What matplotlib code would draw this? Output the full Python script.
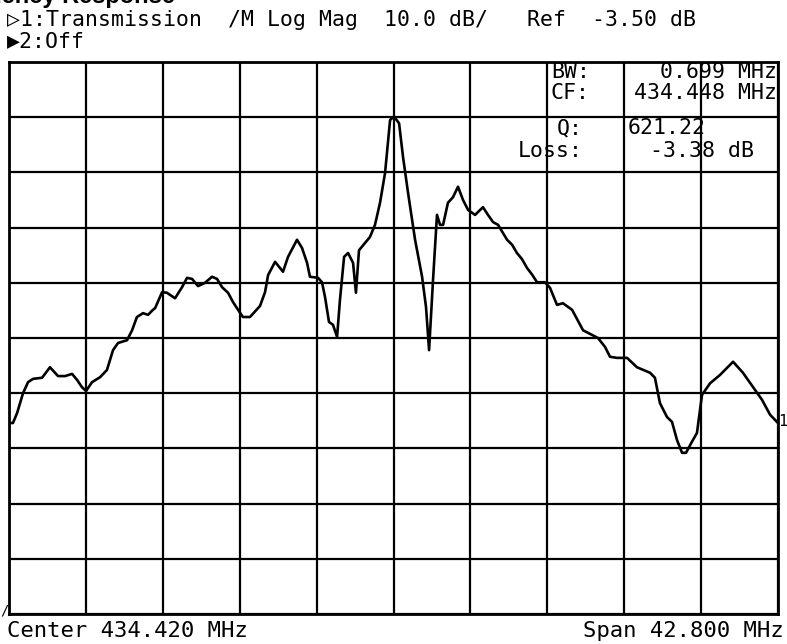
import matplotlib
matplotlib.use("Agg")
import matplotlib.pyplot as plt
import numpy as np

# instrument settings shown on the screen
CENTER_MHZ = 434.420
SPAN_MHZ = 42.800
REF_DB = -3.50
SCALE_DB = 10.0
REF_DIV = 9          # reference line sits on the 9th division from the bottom

# trace 1
freq_mhz = [
    413.02, 413.24, 413.47, 413.80, 414.08, 414.36, 414.86, 415.30, 415.75, 416.14,
    416.53, 416.81, 417.08, 417.31, 417.64, 418.09, 418.47, 418.81, 419.09, 419.59,
    419.87, 420.14, 420.48, 420.76, 421.03, 421.15, 421.54, 421.81, 422.26, 422.65,
    422.93, 423.21, 423.54, 423.93, 424.32, 424.60, 424.88, 425.21, 425.49, 425.77,
    426.04, 426.43, 426.99, 427.27, 427.44, 427.83, 428.27, 428.55, 429.05, 429.33,
    429.61, 429.77, 430.22, 430.44, 430.61, 430.83, 431.05, 431.28, 431.44, 431.67,
    431.89, 432.17, 432.33, 432.50, 432.83, 433.11, 433.39, 433.67, 433.95, 434.23,
    434.45, 434.73, 434.95, 435.23, 435.62, 436.01, 436.23, 436.40, 436.62, 436.84,
    437.01, 437.18, 437.45, 437.73, 438.01, 438.29, 438.57, 438.96, 439.40, 439.68,
    439.96, 440.24, 440.74, 441.02, 441.29, 441.57, 441.85, 442.13, 442.41, 442.85,
    443.13, 443.52, 443.85, 444.36, 444.97, 445.80, 446.19, 446.47, 446.86, 447.42,
    447.97, 448.70, 448.97, 449.25, 449.64, 449.92, 450.20, 450.48, 450.70, 451.03,
    451.31, 451.48, 451.59, 452.04, 452.59, 453.32, 453.87, 454.43, 454.93, 455.38,
    455.82,
]
trace_db = [
    -58.9, -58.9, -57.1, -53.5, -51.5, -50.9, -50.7, -48.8, -50.4, -50.4,
    -50.0, -51.1, -52.4, -53.1, -51.5, -50.6, -49.3, -45.7, -44.4, -43.9,
    -42.1, -39.7, -39.0, -39.3, -38.4, -38.1, -35.2, -35.3, -36.3, -34.3,
    -32.6, -32.8, -34.1, -33.5, -32.4, -32.8, -34.3, -35.3, -37.0, -38.4,
    -39.7, -39.7, -37.7, -35.2, -32.1, -29.7, -31.5, -28.8, -25.7, -27.2,
    -29.9, -32.4, -32.6, -33.4, -36.1, -40.6, -41.1, -43.3, -36.6, -28.8,
    -28.1, -29.9, -35.3, -27.6, -26.3, -25.2, -23.0, -19.0, -13.6, -4.0,
    -3.38, -4.6, -10.7, -17.2, -25.7, -32.4, -37.9, -45.7, -33.0, -21.2,
    -23.0, -23.0, -19.0, -18.0, -16.1, -18.5, -20.3, -21.2, -19.8, -21.2,
    -22.5, -23.0, -25.7, -26.6, -28.1, -29.2, -30.8, -32.0, -33.4, -33.4,
    -34.4, -37.5, -37.2, -38.4, -42.1, -43.5, -45.1, -46.9, -47.1, -47.1,
    -48.8, -49.8, -50.7, -55.3, -57.8, -58.7, -62.0, -64.3, -64.3, -62.3,
    -60.7, -56.5, -53.8, -51.7, -50.2, -47.8, -49.8, -52.4, -54.7, -57.4,
    -58.9,
]

# bandwidth search readout
bw_mhz = 0.699
cf_mhz = 434.448
q_factor = 621.22
loss_db = -3.38

W, H = 787, 644
MONO = ["DejaVu Sans Mono", "DejaVu Sans"]


def px(x, y):
    """pixel position (from top-left) -> figure fraction"""
    return x / W, 1 - y / H


fig = plt.figure(figsize=(W / 100, H / 100), dpi=100, facecolor="white")

left, right, top, bottom = 9, 778, 62, 614
ax = fig.add_axes([left / W, 1 - bottom / H, (right - left) / W, (bottom - top) / H])

f0 = CENTER_MHZ - SPAN_MHZ / 2
f1 = CENTER_MHZ + SPAN_MHZ / 2
y_top = REF_DB + (10 - REF_DIV) * SCALE_DB
y_bot = y_top - 10 * SCALE_DB

ax.plot(freq_mhz, trace_db, color="black", lw=1.9, solid_joinstyle="round",
        solid_capstyle="round", zorder=3)
ax.set_xlim(f0, f1)
ax.set_ylim(y_bot, y_top)
ax.set_xticks(np.linspace(f0, f1, 11))
ax.set_yticks(np.linspace(y_bot, y_top, 11))
ax.tick_params(length=0, labelbottom=False, labelleft=False)
ax.grid(True, color="black", lw=1.6)
for sp in ax.spines.values():
    sp.set_linewidth(2.0)
    sp.set_color("black")

# title, cropped at the top edge as in the source screenshot
fig.text(*px(175, 3), "Frequency Response", ha="right", va="baseline",
         fontsize=17, fontweight="bold", family="Liberation Sans")

# channel header
fig.text(*px(7, 26), "\u25b71:Transmission  /M Log Mag  10.0 dB/   Ref  -3.50 dB",
         ha="left", va="baseline", fontsize=15.5, family=MONO)
fig.text(*px(7, 47), "\u25b62:Off", ha="left", va="baseline", fontsize=15.5, family=MONO)

# marker readout
fs = 15.5
fig.text(*px(551, 78), "BW:", ha="left", va="baseline", fontsize=fs, family=MONO)
fig.text(*px(777, 78), f"{bw_mhz:.3f} MHz", ha="right", va="baseline", fontsize=fs, family=MONO)
fig.text(*px(551, 99), "CF:", ha="left", va="baseline", fontsize=fs, family=MONO)
fig.text(*px(777, 99), f"{cf_mhz:.3f} MHz", ha="right", va="baseline", fontsize=fs, family=MONO)
fig.text(*px(583, 134), "Q:", ha="right", va="baseline", fontsize=fs, family=MONO)
fig.text(*px(628, 134), f"{q_factor:.2f}", ha="left", va="baseline", fontsize=fs, family=MONO)
fig.text(*px(583, 157), "Loss:", ha="right", va="baseline", fontsize=fs, family=MONO)
fig.text(*px(754, 157), f"{loss_db:.2f} dB", ha="right", va="baseline", fontsize=fs, family=MONO)

# trace label on the right edge and stray mark at bottom-left
fig.text(*px(778, 422), "1", ha="left", va="center", fontsize=11, family=MONO)
fig.text(*px(0, 615), "/", ha="left", va="baseline", fontsize=10, family=MONO)

# footer
fig.text(*px(7, 637), f"Center {CENTER_MHZ:.3f} MHz", ha="left", va="baseline",
         fontsize=16, family=MONO)
fig.text(*px(784, 637), f"Span {SPAN_MHZ:.3f} MHz", ha="right", va="baseline",
         fontsize=16, family=MONO)

fig.savefig("out.png", dpi=100, facecolor="white")
